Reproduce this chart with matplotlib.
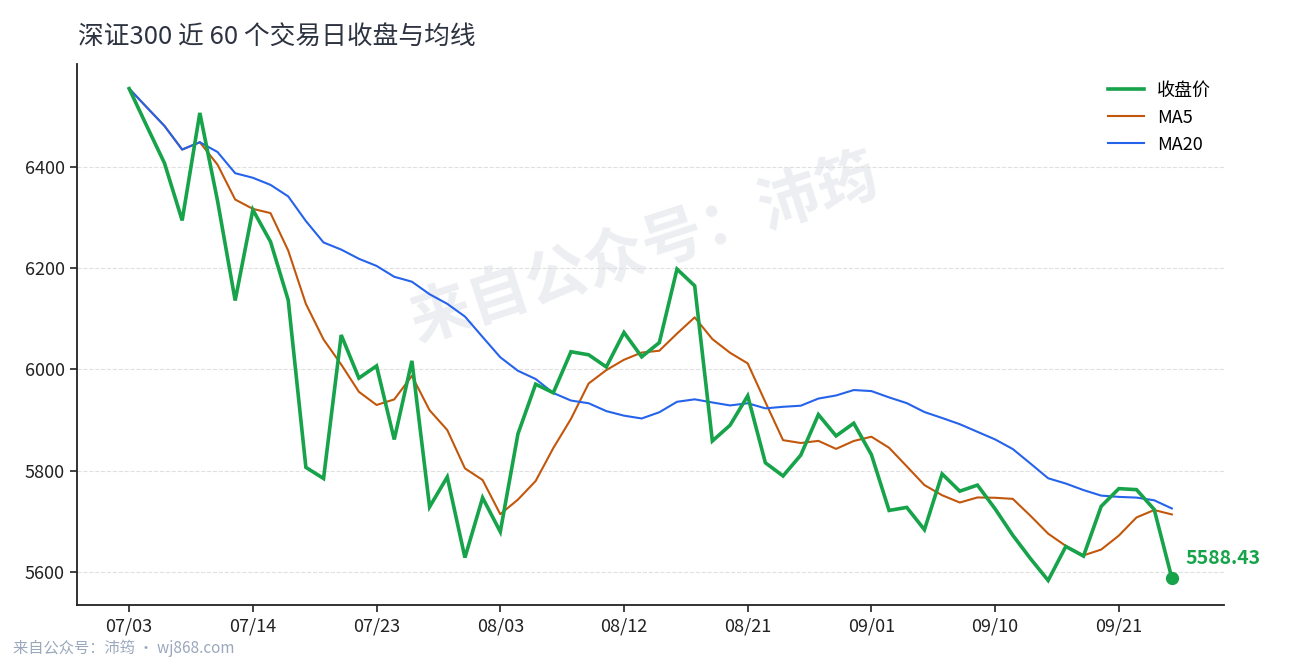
import matplotlib
matplotlib.use("Agg")
import matplotlib.pyplot as plt
import numpy as np
import pandas as pd

plt.rcParams['font.family'] = ['Noto Sans CJK SC', 'DejaVu Sans']

# ---- data -------------------------------------------------------------
title = "深证300 近 60 个交易日收盘与均线"
close = [
    6554, 6480, 6407, 6294, 6506, 6333, 6136, 6315, 6252, 6137,
    5807, 5785, 6068, 5983, 6007, 5862, 6017, 5729, 5788, 5629,
    5747, 5680, 5873, 5971, 5954, 6035, 6029, 6005, 6073, 6025,
    6053, 6198, 6165, 5859, 5890, 5948, 5816, 5790, 5831, 5911,
    5869, 5894, 5832, 5722, 5728, 5684, 5794, 5760, 5772, 5725,
    5673, 5627, 5584, 5651, 5632, 5730, 5765, 5763, 5724, 5588.43,
]
tick_labels = ["07/03", "07/14", "07/23", "08/03", "08/12",
               "08/21", "09/01", "09/10", "09/21"]
tick_step = 7
series_names = ["收盘价", "MA5", "MA20"]
last_label = "5588.43"
watermark = "来自公众号：沛筠"
footer = "来自公众号：沛筠 · wj868.com"

s = pd.Series(close)
ma5 = s.rolling(5, min_periods=1).mean()
ma20 = s.rolling(20, min_periods=1).mean()
x = np.arange(len(close))

# ---- figure -----------------------------------------------------------
W, H = 1290, 660
fig = plt.figure(figsize=(W / 100, H / 100), dpi=100)
ax = fig.add_axes([77 / W, 1 - 605 / H, (1224 - 77) / W, (605 - 64) / H])

c_green = "#16a34a"
c_orange = "#c2570c"
c_blue = "#2563eb"

ax.plot(x, s, color=c_green, lw=2.6, label=series_names[0], zorder=4,
        solid_joinstyle="miter")
ax.plot(x, ma5, color=c_orange, lw=1.5, label=series_names[1], zorder=3)
ax.plot(x, ma20, color=c_blue, lw=1.5, label=series_names[2], zorder=3)
ax.plot([x[-1]], [close[-1]], "o", color=c_green, ms=8.5, zorder=5)

ax.annotate(last_label, xy=(x[-1], close[-1]), xytext=(14, 20),
            textcoords="offset pixels", color=c_green, fontsize=14,
            fontweight="bold", va="center", ha="left", annotation_clip=False)

ax.text(645 / W, 1 - 250 / H, watermark, transform=fig.transFigure,
        rotation=18, fontsize=44, fontweight="bold", color="#eceef2",
        ha="center", va="center", zorder=0.5)

ax.set_xticks(x[::tick_step])
ax.set_xticklabels(tick_labels)
ax.set_yticks([5600, 5800, 6000, 6200, 6400])

for sp in ["top", "right"]:
    ax.spines[sp].set_visible(False)
for sp in ["left", "bottom"]:
    ax.spines[sp].set_linewidth(1.3)
    ax.spines[sp].set_color("#222222")

ax.tick_params(axis="both", labelsize=13, length=5, width=1.2,
               colors="#222222", pad=4)
ax.yaxis.grid(True, linestyle="--", color="#e0e0e0", lw=0.8)
ax.set_axisbelow(True)

leg = ax.legend(loc="upper right", frameon=False, fontsize=13,
                handlelength=2.0, handletextpad=0.75, labelspacing=0.50,
                bbox_to_anchor=(1.003, 0.9975))

fig.text(78 / W, 1 - 37 / H, title, fontsize=18.5, color="#2d3340",
         ha="left", va="center")
fig.text(13 / W, 1 - 648 / H, footer, fontsize=11, color="#9aa8bd",
         ha="left", va="center")

fig.savefig("out.png", dpi=100)
